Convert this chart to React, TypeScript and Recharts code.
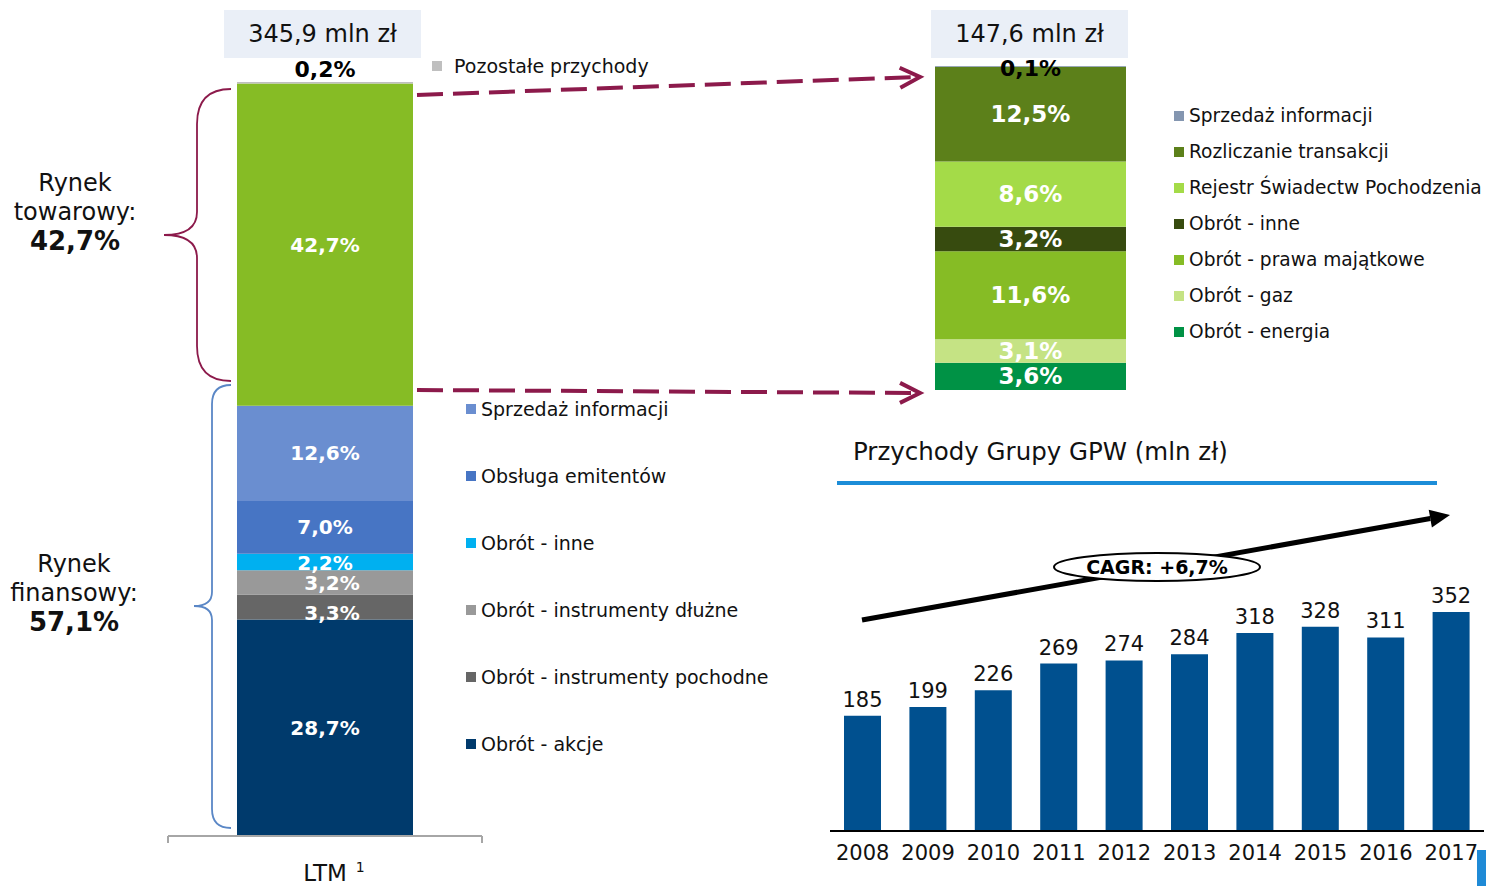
import React from 'react'
import { BarChart, Bar, XAxis, YAxis, LabelList } from 'recharts'

const FONT = '"DejaVu Sans", Verdana, sans-serif'

// left stacked bar (whole group, LTM)
const ltmCategory = ['LTM']
const ltmSeries = [
	'Obrót - akcje',
	'Obrót - instrumenty pochodne',
	'Obrót - instrumenty dłużne',
	'Obrót - inne',
	'Obsługa emitentów',
	'Sprzedaż informacji',
	'Rynek towarowy',
	'Pozostałe przychody',
]
const ltmValues = [28.7, 3.3, 3.2, 2.2, 7.0, 12.6, 42.7, 0.2]
const ltmColors = ['#003A6C', '#666666', '#999999', '#00B0F0', '#4775C4', '#6A8ED0', '#86BC25', '#BFBFBF']
const ltmTotal = '345,9 mln zł'

// right stacked bar (commodity market)
const towarCategory = ['Rynek towarowy']
const towarSeries = [
	'Obrót - energia',
	'Obrót - gaz',
	'Obrót - prawa majątkowe',
	'Obrót - inne',
	'Rejestr Świadectw Pochodzenia',
	'Rozliczanie transakcji',
	'Sprzedaż informacji',
]
const towarValues = [3.6, 3.1, 11.6, 3.2, 8.6, 12.5, 0.1]
const towarColors = ['#009245', '#C5E384', '#86BC25', '#374B0F', '#A4DB48', '#5C801A', '#8496B0']
const towarTotal = '147,6 mln zł'

// revenue history
const years = ['2008', '2009', '2010', '2011', '2012', '2013', '2014', '2015', '2016', '2017']
const revenue = [185, 199, 226, 269, 274, 284, 318, 328, 311, 352]
const cagrText = 'CAGR: +6,7%'

const ltmData = ltmCategory.map((name) => {
	const row: any = { name }
	ltmValues.forEach((v, i) => (row['s' + i] = v))
	return row
})
const towarData = towarCategory.map((name) => {
	const row: any = { name }
	towarValues.forEach((v, i) => (row['s' + i] = v))
	return row
})
const revenueData = years.map((year, i) => ({ year, value: revenue[i] }))

const fmtPct = (v: number) => v.toFixed(1).replace('.', ',') + '%'

const segLabel = (fill: string, size: number, dx = 0, dy = 0, above: number | null = null) => (p: any) => {
	let v = p.value
	if (Array.isArray(v)) v = v[1] - v[0]
	const x = Number(p.x)
	const y = Number(p.y)
	const w = Number(p.width)
	const h = Number(p.height)
	const cy = above !== null ? y - above : y + h / 2
	return (
		<text
			x={x + w / 2 + dx}
			y={cy + dy}
			fill={fill}
			fontSize={size}
			fontWeight="bold"
			fontFamily={FONT}
			textAnchor="middle"
			dominantBaseline="central"
		>
			{fmtPct(Number(v))}
		</text>
	)
}

const ltmLabelOffsets: Record<number, [number, number]> = { 1: [7, 6], 2: [7, 1], 3: [0, 1] }

const LtmTick = (p: any) => (
	<text x={p.x + 9} y={p.y + 37} textAnchor="middle" fontFamily={FONT} fontSize={23} fill="#111">
		{p.payload.value}
		<tspan fontSize={14} dx={9} dy={-9}>
			1
		</tspan>
	</text>
)

const arrowHead = (x1: number, y1: number, x2: number, y2: number, len: number, half: number) => {
	const d = Math.hypot(x2 - x1, y2 - y1)
	const ux = (x2 - x1) / d
	const uy = (y2 - y1) / d
	const bx = x2 - ux * len
	const by = y2 - uy * len
	return {
		a: [bx - uy * half, by + ux * half],
		b: [bx + uy * half, by - ux * half],
		base: [bx, by],
	}
}

const DashedArrow = ({ x1, y1, x2, y2 }: { x1: number; y1: number; x2: number; y2: number }) => {
	const h = arrowHead(x1, y1, x2, y2, 20, 10)
	return (
		<g stroke="#8C1A4B" strokeWidth={4} fill="none">
			<line x1={x1} y1={y1} x2={x2 - 3} y2={y2} strokeDasharray="26 10" />
			<polyline points={`${h.a[0]},${h.a[1]} ${x2},${y2} ${h.b[0]},${h.b[1]}`} />
		</g>
	)
}

const boxStyle = (left: number): React.CSSProperties => ({
	position: 'absolute',
	left,
	top: 10,
	width: 197,
	height: 48,
	background: '#EAEFF7',
	fontFamily: FONT,
	fontSize: 24,
	lineHeight: '48px',
	textAlign: 'center',
	color: '#111',
})

const legendItem = (left: number, cy: number, color: string, text: string, gap: number, size: number, key: string) => (
	<div
		key={key}
		style={{
			position: 'absolute',
			left,
			top: cy - 11,
			height: 22,
			lineHeight: '22px',
			fontFamily: FONT,
			fontSize: size,
			color: '#111',
			whiteSpace: 'nowrap',
			display: 'flex',
			alignItems: 'center',
		}}
	>
		<span style={{ display: 'inline-block', width: 10, height: 10, background: color, marginRight: gap }} />
		{text}
	</div>
)

const TOP_PAD = 30

export default function App() {
	const h1 = arrowHead(862, 620, 1450, 515, 20, 9)
	return (
		<div style={{ position: 'absolute', left: 0, top: 0, width: 1486, height: 886, background: '#fff', overflow: 'hidden' }}>
			<div style={boxStyle(224)}>{ltmTotal}</div>
			<div style={boxStyle(931)}>{towarTotal}</div>

			<div style={{ position: 'absolute', left: 168, top: 82 - TOP_PAD }}>
				<BarChart width={314} height={804 + TOP_PAD} data={ltmData} margin={{ top: TOP_PAD, right: 0, bottom: 0, left: 0 }}>
					<XAxis
						dataKey="name"
						height={50}
						axisLine={{ stroke: '#A6A6A6', strokeWidth: 2 }}
						tickLine={false}
						tick={<LtmTick />}
					/>
					<YAxis hide domain={[0, 99.9]} />
					{ltmSeries.map((name, i) => (
						<Bar key={name} name={name} dataKey={'s' + i} stackId="a" fill={ltmColors[i]} barSize={176} isAnimationActive={false}>
							<LabelList
								dataKey={'s' + i}
								content={
									i === ltmSeries.length - 1
										? segLabel('#000', 22, 0, 0, 13)
										: segLabel('#fff', 20, (ltmLabelOffsets[i] || [0, 0])[0], (ltmLabelOffsets[i] || [0, 0])[1])
								}
							/>
						</Bar>
					))}
				</BarChart>
			</div>

			<div style={{ position: 'absolute', left: 935, top: 66 - TOP_PAD }}>
				<BarChart
					width={191}
					height={324 + TOP_PAD}
					data={towarData}
					margin={{ top: TOP_PAD, right: 0, bottom: 0, left: 0 }}
					barCategoryGap={0}
				>
					<XAxis dataKey="name" hide />
					<YAxis hide domain={[0, 42.7]} />
					{towarSeries.map((name, i) => (
						<Bar key={name} name={name} dataKey={'s' + i} stackId="a" fill={towarColors[i]} isAnimationActive={false}>
							<LabelList
								dataKey={'s' + i}
								content={i === towarSeries.length - 1 ? segLabel('#000', 22, 0, 2, 0) : segLabel('#fff', 23)}
							/>
						</Bar>
					))}
				</BarChart>
			</div>

			<div style={{ position: 'absolute', left: 830, top: 582 - TOP_PAD }}>
				<BarChart width={654} height={289 + TOP_PAD} data={revenueData} margin={{ top: TOP_PAD, right: 0, bottom: 0, left: 0 }}>
					<XAxis
						dataKey="year"
						height={40}
						axisLine={{ stroke: '#000', strokeWidth: 2 }}
						tickLine={false}
						tickMargin={8}
						interval={0}
						tick={{ fontFamily: FONT, fontSize: 21, fill: '#111' }}
					/>
					<YAxis hide domain={[0, 400]} />
					<Bar dataKey="value" fill="#00508F" barSize={37} isAnimationActive={false}>
						<LabelList dataKey="value" position="top" offset={9} style={{ fontFamily: FONT, fontSize: 21, fill: '#111' }} />
					</Bar>
				</BarChart>
			</div>

			{legendItem(432, 66, ltmColors[7], ltmSeries[7], 12, 19, 'poz')}
			{[5, 4, 3, 2, 1, 0].map((idx, k) => legendItem(466, 409 + 67 * k, ltmColors[idx], ltmSeries[idx], 5, 19, 'l' + idx))}
			{[6, 5, 4, 3, 2, 1, 0].map((idx, k) => legendItem(1174, 116 + 36 * k, towarColors[idx], towarSeries[idx], 5, 18.6, 'r' + idx))}

			<div style={{ position: 'absolute', left: 853, top: 437, fontFamily: FONT, fontSize: 24.5, color: '#111', whiteSpace: 'nowrap' }}>
				Przychody Grupy GPW (mln zł)
			</div>

			<div style={{ position: 'absolute', left: 0, top: 169, width: 150, textAlign: 'center', fontFamily: FONT, fontSize: 24, lineHeight: '29px', color: '#111' }}>
				Rynek
				<br />
				towarowy:
				<br />
				<b style={{ fontSize: 26 }}>42,7%</b>
			</div>
			<div style={{ position: 'absolute', left: 0, top: 550, width: 148, textAlign: 'center', fontFamily: FONT, fontSize: 24, lineHeight: '29px', color: '#111' }}>
				Rynek
				<br />
				finansowy:
				<br />
				<b style={{ fontSize: 26 }}>57,1%</b>
			</div>

			<div style={{ position: 'absolute', left: 1477, top: 850, width: 9, height: 36, background: '#1F8AD6' }} />

			<svg width={1486} height={886} style={{ position: 'absolute', left: 0, top: 0, pointerEvents: 'none' }}>
				{/* axis end ticks of the LTM category */}
				<line x1={168} y1={836} x2={168} y2={843} stroke="#A6A6A6" strokeWidth={2} />
				<line x1={482} y1={836} x2={482} y2={843} stroke="#A6A6A6" strokeWidth={2} />

				{/* braces */}
				<path
					d="M 231 89 Q 197 89 197 124 L 197 212 Q 197 235 164 235 Q 197 235 197 258 L 197 346 Q 197 381 231 381"
					stroke="#8C1A4B"
					strokeWidth={1.8}
					fill="none"
				/>
				<path
					d="M 231 385 Q 212 385 212 404 L 212 592 Q 212 606 194 606 Q 212 606 212 620 L 212 809 Q 212 828 231 828"
					stroke="#5A87C6"
					strokeWidth={1.8}
					fill="none"
				/>

				<DashedArrow x1={417} y1={95} x2={920} y2={77} />
				<DashedArrow x1={417} y1={390} x2={920} y2={393} />

				{/* title underline */}
				<line x1={837} y1={483} x2={1437} y2={483} stroke="#1C8DD8" strokeWidth={4} />

				{/* growth arrow */}
				<line x1={862} y1={620} x2={h1.base[0]} y2={h1.base[1]} stroke="#000" strokeWidth={5} />
				<polygon points={`${h1.a[0]},${h1.a[1]} 1450,515 ${h1.b[0]},${h1.b[1]}`} fill="#000" />
				<ellipse cx={1157} cy={567} rx={103} ry={14} fill="#fff" stroke="#000" strokeWidth={2} />
				<text x={1157} y={567} textAnchor="middle" dominantBaseline="central" fontFamily={FONT} fontSize={19} fontWeight="bold" fill="#000">
					{cagrText}
				</text>
			</svg>
		</div>
	)
}
